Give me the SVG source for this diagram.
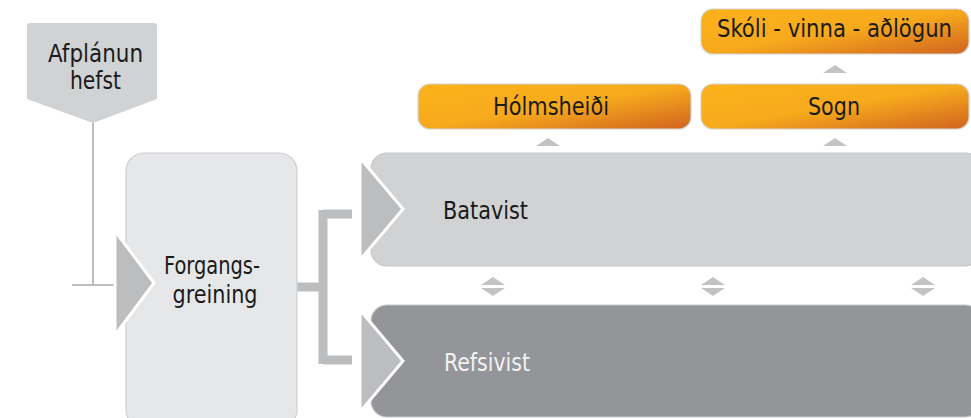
<svg xmlns="http://www.w3.org/2000/svg" width="971" height="418" viewBox="0 0 971 418">
<defs>
<linearGradient id="orange" x1="0" y1="0" x2="1" y2="1">
<stop offset="0" stop-color="#fbb21a"/>
<stop offset="0.5" stop-color="#f7aa1c"/>
<stop offset="1" stop-color="#d0631f"/>
</linearGradient>
<style>
text{font-family:"Liberation Sans Narrow","DejaVu Sans Condensed","Liberation Sans",Arial,sans-serif;font-size:24px;fill:#1a1a1a}
.mid{text-anchor:middle}
.or{fill:url(#orange);stroke:#d4d4d4;stroke-width:1.2}
.tri{fill:#bcbdbf;stroke:#ffffff;stroke-width:3;stroke-linejoin:miter}
.small{fill:#c2c3c5}
.line{stroke:#bcbdbf;fill:none}
</style>
</defs>
<rect width="971" height="418" fill="#ffffff"/>

<g id="connectors">
<path class="line" d="M93,123 V285 M72,285 H116" stroke-width="2"/>
<path class="line" d="M297,287 H323 M323,210 V364 M323,214 H352 M323,360 H352" stroke-width="9"/>
<polygon class="small" points="536,146 548,138 560,146"/>
<polygon class="small" points="823,146 835,138 847,146"/>
<polygon class="small" points="823,73 835,65 847,73"/>
<polygon class="small" points="481,285 493,277 505,285"/>
<polygon class="small" points="481,288 493,296 505,288"/>
<polygon class="small" points="701,285 713,277 725,285"/>
<polygon class="small" points="701,288 713,296 725,288"/>
<polygon class="small" points="911,285 923,277 935,285"/>
<polygon class="small" points="911,288 923,296 935,288"/>
</g>

<g id="afplanun">
<path d="M30,23 H154 Q157,23 157,26 V99 L93,123 L27,99 V26 Q27,23 30,23 Z" fill="#d1d2d4"/>
<text class="mid" x="95.5" y="62" textLength="95" lengthAdjust="spacingAndGlyphs">Afplánun</text>
<text class="mid" x="95.5" y="89" textLength="51" lengthAdjust="spacingAndGlyphs">hefst</text>
</g>

<g id="forgangsgreining">
<rect x="126" y="153" width="171" height="275" rx="18" fill="#e6e7e8" stroke="#cfd0d2" stroke-width="1.2"/>
<polygon class="tri" points="115,231 154,283 115,335"/>
<text class="mid" x="212" y="274" textLength="96" lengthAdjust="spacingAndGlyphs">Forgangs-</text>
<text class="mid" x="215" y="303" textLength="85" lengthAdjust="spacingAndGlyphs">greining</text>
</g>

<g id="batavist">
<rect x="371" y="153" width="610" height="113" rx="16" fill="#d1d2d4" stroke="#c6c7c9" stroke-width="1.2"/>
<polygon class="tri" points="360,158 403,209 360,260"/>
<text x="443" y="219" textLength="85" lengthAdjust="spacingAndGlyphs">Batavist</text>
</g>

<g id="refsivist">
<rect x="371" y="305" width="610" height="112" rx="16" fill="#939598" stroke="#c6c7c9" stroke-width="1.2"/>
<polygon class="tri" points="360,310 403,361 360,412"/>
<text x="444" y="371" textLength="86" lengthAdjust="spacingAndGlyphs" style="fill:#f2f2f2">Refsivist</text>
</g>

<g id="holmsheidi">
<rect class="or" x="418" y="84" width="273" height="45" rx="12"/>
<text class="mid" x="551" y="115" textLength="116" lengthAdjust="spacingAndGlyphs">Hólmsheiði</text>
</g>

<g id="sogn">
<rect class="or" x="701" y="84" width="268" height="45" rx="12"/>
<text class="mid" x="834" y="115" textLength="52" lengthAdjust="spacingAndGlyphs">Sogn</text>
</g>

<g id="skoli">
<rect class="or" x="701" y="9" width="268" height="45" rx="12"/>
<text class="mid" x="834.5" y="37" textLength="235" lengthAdjust="spacingAndGlyphs">Skóli - vinna - aðlögun</text>
</g>
</svg>
